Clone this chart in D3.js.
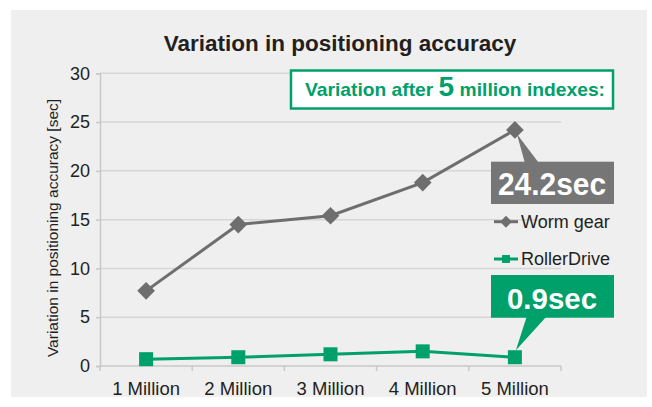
<!DOCTYPE html>
<html lang="en">
<head>
<meta charset="UTF-8">
<title>Variation in positioning accuracy</title>
<script src="https://d3js.org/d3.v7.min.js"></script>
<style>
  body { margin: 0; background: #fff; }
  text { font-family: "Liberation Sans", Arial, sans-serif; fill: #231f20; }
  .grid line { stroke: #d6d6d6; stroke-width: 1.5px; }
</style>
</head>
<body>
<div id="chart"></div>
<script>
// data
const categories = ["1 Million", "2 Million", "3 Million", "4 Million", "5 Million"];
const wormGear = [7.7, 14.5, 15.4, 18.8, 24.2];
const rollerDrive = [0.7, 0.9, 1.2, 1.5, 0.9];
const yTicks = [0, 5, 10, 15, 20, 25, 30];

const W = 652, H = 407;
const plot = { left: 100, right: 561, top: 73.3, bottom: 366 };
const grey = "#6e6e6e", green = "#00a06a";

const svg = d3.select("#chart").append("svg")
    .attr("width", W).attr("height", H);

// panel background
svg.append("rect")
    .attr("x", 11).attr("y", 10).attr("width", 636).attr("height", 387)
    .attr("fill", "#efefef");

const x = d3.scaleBand().domain(categories).range([plot.left, plot.right]);
const y = d3.scaleLinear().domain([0, 30]).range([plot.bottom, plot.top]);
const cx = d => x(d) + x.bandwidth() / 2;

// horizontal gridlines
svg.append("g").attr("class", "grid")
    .selectAll("line").data(yTicks.filter(t => t > 0)).join("line")
    .attr("x1", plot.left).attr("x2", plot.right)
    .attr("y1", d => y(d)).attr("y2", d => y(d));

// y axis
const yAxis = svg.append("g")
    .attr("transform", `translate(${plot.left},0)`)
    .call(d3.axisLeft(y).tickValues(yTicks).tickSize(4).tickPadding(6));
yAxis.select(".domain").attr("stroke", "#c8c8c8").attr("stroke-width", 1.5);
yAxis.selectAll(".tick line").attr("stroke", "#c8c8c8").attr("stroke-width", 1.5);
yAxis.selectAll("text").attr("font-size", 18).attr("fill", "#231f20")
    .style("font-family", "'Liberation Sans', Arial, sans-serif");

// x axis: line plus ticks at category boundaries
const xg = svg.append("g");
xg.append("line")
    .attr("x1", plot.left).attr("x2", plot.right)
    .attr("y1", plot.bottom).attr("y2", plot.bottom)
    .attr("stroke", "#c8c8c8").attr("stroke-width", 1.5);
const bounds = categories.map(d => x(d)).concat([plot.right]);
xg.selectAll(".bt").data(bounds).join("line")
    .attr("x1", d => d).attr("x2", d => d)
    .attr("y1", plot.bottom).attr("y2", plot.bottom + 5)
    .attr("stroke", "#c8c8c8").attr("stroke-width", 1.5);
xg.selectAll("text").data(categories).join("text")
    .attr("x", d => cx(d)).attr("y", 395)
    .attr("text-anchor", "middle").attr("font-size", 18.5)
    .text(d => d);

// title
svg.append("text")
    .attr("x", 340).attr("y", 50.7).attr("text-anchor", "middle")
    .attr("font-size", 22.5).attr("font-weight", "bold")
    .text("Variation in positioning accuracy");

// y axis title
svg.append("text")
    .attr("transform", "translate(58,228) rotate(-90)")
    .attr("text-anchor", "middle").attr("font-size", 15.5)
    .attr("fill", "#333")
    .text("Variation in positioning accuracy [sec]");

// series lines
const line = d3.line().x((d, i) => cx(categories[i])).y(d => y(d));
svg.append("path").datum(wormGear).attr("d", line)
    .attr("fill", "none").attr("stroke", grey).attr("stroke-width", 3);
svg.append("path").datum(rollerDrive).attr("d", line)
    .attr("fill", "none").attr("stroke", green).attr("stroke-width", 3);

// markers
const diamond = d3.symbol().type(d3.symbolDiamond2).size(200);
svg.selectAll(".wg").data(wormGear).join("path")
    .attr("d", diamond)
    .attr("transform", (d, i) => `translate(${cx(categories[i])},${y(d)})`)
    .attr("fill", grey);
svg.selectAll(".rd").data(rollerDrive).join("rect")
    .attr("x", (d, i) => cx(categories[i]) - 7).attr("y", d => y(d) - 7)
    .attr("width", 14).attr("height", 14)
    .attr("fill", green);

// header box
svg.append("rect")
    .attr("x", 291).attr("y", 70.5).attr("width", 322).attr("height", 38)
    .attr("fill", "#fff").attr("stroke", green).attr("stroke-width", 2.5);
const hdr = svg.append("text")
    .attr("x", 305).attr("y", 96)
    .attr("font-weight", "bold").attr("font-size", 18.5)
    .attr("textLength", 300).attr("lengthAdjust", "spacingAndGlyphs")
    .style("fill", green);
hdr.append("tspan").text("Variation after ");
hdr.append("tspan").attr("font-size", 27).text("5");
hdr.append("tspan").text(" million indexes:");

// callout: worm gear last value
const lastI = categories.length - 1;
const wx = cx(categories[lastI]), wy = y(wormGear[lastI]);
svg.append("path")
    .attr("d", `M${wx + 2},${wy + 4} L${wx + 10},163 L${wx + 24},163 Z`)
    .attr("fill", "#767676");
svg.append("rect")
    .attr("x", 491).attr("y", 161.7).attr("width", 123).attr("height", 42.3)
    .attr("fill", "#767676");
svg.append("text")
    .attr("x", 552).attr("y", 195).attr("text-anchor", "middle")
    .attr("font-weight", "bold").attr("font-size", 31)
    .attr("textLength", 108).attr("lengthAdjust", "spacingAndGlyphs")
    .style("fill", "#fff")
    .text(wormGear[lastI] + "sec");

// callout: roller drive last value
const rx = cx(categories[lastI]), ry = y(rollerDrive[lastI]);
svg.append("path")
    .attr("d", `M${rx + 1},${ry - 7} L${rx + 12},316 L${rx + 32},316 Z`)
    .attr("fill", green);
svg.append("rect")
    .attr("x", 491).attr("y", 275).attr("width", 123).attr("height", 42.7)
    .attr("fill", green);
svg.append("text")
    .attr("x", 552).attr("y", 308.5).attr("text-anchor", "middle")
    .attr("font-weight", "bold").attr("font-size", 30)
    .attr("textLength", 90).attr("lengthAdjust", "spacingAndGlyphs")
    .style("fill", "#fff")
    .text(rollerDrive[lastI] + "sec");

// legend
const legend = [
  { name: "Worm gear", color: grey, shape: "diamond", y: 221.7 },
  { name: "RollerDrive", color: green, shape: "square", y: 259 }
];
const lg = svg.selectAll(".lg").data(legend).join("g")
    .attr("transform", d => `translate(494,${d.y})`);
lg.append("line").attr("x1", 0).attr("x2", 24)
    .attr("stroke", d => d.color).attr("stroke-width", 3);
lg.append("path")
    .attr("d", d => d.shape === "diamond"
        ? d3.symbol().type(d3.symbolDiamond2).size(90)()
        : d3.symbol().type(d3.symbolSquare2).size(80)())
    .attr("transform", "translate(12,0)")
    .attr("fill", d => d.color);
lg.append("text").attr("x", 27).attr("y", 6)
    .attr("font-size", 18).text(d => d.name);
</script>
</body>
</html>
